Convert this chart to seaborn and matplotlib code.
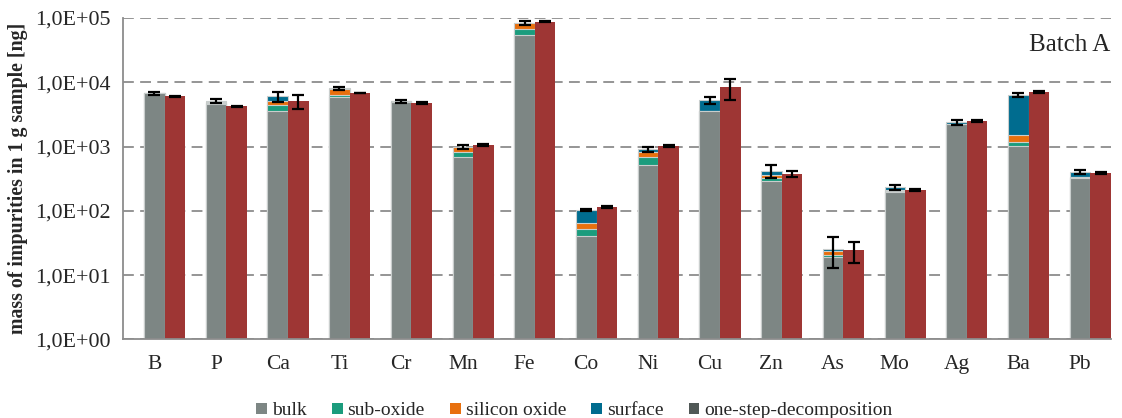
import numpy as np
import pandas as pd
import matplotlib
matplotlib.use("Agg")
import matplotlib.pyplot as plt
from matplotlib.patches import Patch
from matplotlib.ticker import FuncFormatter, LogLocator, NullLocator
import seaborn as sns

# Impurity masses in 1 g sample [ng], Batch A
elements = ["B", "P", "Ca", "Ti", "Cr", "Mn", "Fe", "Co", "Ni", "Cu", "Zn", "As", "Mo", "Ag", "Ba", "Pb"]

# stepwise decomposition (stacked)
bulk = [6700, 4600, 3560, 5900, 5000, 692, 53700, 40, 514, 3560, 292, 19.1, 195, 2210, 1026, 320]
sub_oxide = [0, 120, 910, 400, 60, 134, 13000, 11.7, 178, 0, 27, 1.7, 8, 30, 158, 15]
silicon_oxide = [0, 130, 630, 1500, 0, 164, 15900, 12, 134, 0, 40, 2.9, 10, 0, 322, 5]
surface = [0, 190, 930, 240, 30, 0, 0, 38, 84, 1720, 60, 2.2, 18, 130, 4800, 60]
stepwise_err = [300, 360, 1030, 470, 250, 60, 6000, 4, 85, 700, 100, 13, 20, 200, 450, 28]

# one-step decomposition
one_step = [6100, 4260, 5090, 6790, 4740, 1060, 87600, 115, 1026, 8310, 372, 24.3, 210, 2490, 7110, 389]
one_step_err = [100, 80, 1300, 100, 120, 30, 1500, 5, 25, 3100, 40, 9, 5, 60, 200, 10]

layer_names = ["bulk", "sub-oxide", "silicon oxide", "surface", "one-step-decomposition"]
colors = {
    "bulk": "#7d8684",
    "sub-oxide": "#1b9c7d",
    "silicon oxide": "#e8700e",
    "surface": "#006c8f",
    "one-step-decomposition": "#505856",
}
red = "#9e3634"

sns.set_style("white")
plt.rcParams["font.family"] = "serif"
plt.rcParams["font.serif"] = ["Liberation Serif", "Times New Roman", "DejaVu Serif"]

fig = plt.figure(figsize=(11.22, 4.18), dpi=100)
ax = fig.add_axes([0.110, 0.188, 0.880, 0.769])

b = np.array(bulk, dtype=float)
s1 = b + np.array(sub_oxide)
s2 = s1 + np.array(silicon_oxide)
total = s2 + np.array(surface)

n = len(elements)
width = 0.667
# cumulative layers drawn from the top down so each lower layer covers the one above
layers = [("surface", total), ("silicon oxide", s2), ("sub-oxide", s1), ("bulk", b)]
for name, heights in layers:
    df = pd.DataFrame({
        "element": elements * 2,
        "method": ["stepwise"] * n + ["one-step"] * n,
        "mass": list(heights) + list(one_step),
    })
    sns.barplot(data=df, x="element", y="mass", hue="method",
                hue_order=["stepwise", "one-step"], order=elements,
                palette={"stepwise": colors[name], "one-step": red},
                width=width, dodge=True, errorbar=None, saturation=1,
                linewidth=0, legend=False, ax=ax)
    for patch in ax.containers[-2]:
        patch.set_edgecolor("#c9cecd")
        patch.set_linewidth(0.8)

ax.set_yscale("log")
ax.set_ylim(1, 1e5)

off = width / 4
pos = np.arange(n)
ax.errorbar(pos - off, total, yerr=stepwise_err, fmt="none", ecolor="black",
            elinewidth=1.6, capsize=4, capthick=1.6, zorder=5)
ax.errorbar(pos + off, one_step, yerr=one_step_err, fmt="none", ecolor="black",
            elinewidth=1.6, capsize=4, capthick=1.6, zorder=5)

ax.set_xticks(pos - off, labels=elements)
ax.set_xlim(-0.5 - off, n - 0.5 - off)
ax.set_xlabel("")

ax.yaxis.set_major_locator(LogLocator(base=10, numticks=10))
ax.yaxis.set_minor_locator(NullLocator())
ax.yaxis.set_major_formatter(FuncFormatter(lambda v, _: f"{v:.1E}".replace(".", ",")))
ax.set_ylabel("mass of impurities in 1 g sample [ng]", fontsize=14.3,
              fontweight="bold", labelpad=5)

ax.yaxis.grid(True, linestyle=(0, (6, 3.5)), color="#8c8c8c", linewidth=1.3)
ax.xaxis.grid(False)
ax.set_axisbelow(True)
for side in ["top", "right"]:
    ax.spines[side].set_visible(False)
for side in ["left", "bottom"]:
    ax.spines[side].set_color("#8c8c8c")
    ax.spines[side].set_linewidth(1.3)
ax.tick_params(axis="y", length=5, width=1.2, color="#8c8c8c", labelsize=15.8, pad=4)
ax.tick_params(axis="x", length=0, labelsize=15.5, pad=11)

ax.text(0.999, 0.916, "Batch A", transform=ax.transAxes, ha="right", va="center",
        fontsize=18)

handles = [Patch(facecolor=colors[k], edgecolor="none") for k in layer_names]
fig.legend(handles, layer_names, loc="lower center", bbox_to_anchor=(0.512, -0.045),
           ncol=5, frameon=False, handlelength=0.55, handleheight=0.55,
           handletextpad=0.25, columnspacing=1.3, fontsize=14)

fig.savefig("out.png", dpi=100)
